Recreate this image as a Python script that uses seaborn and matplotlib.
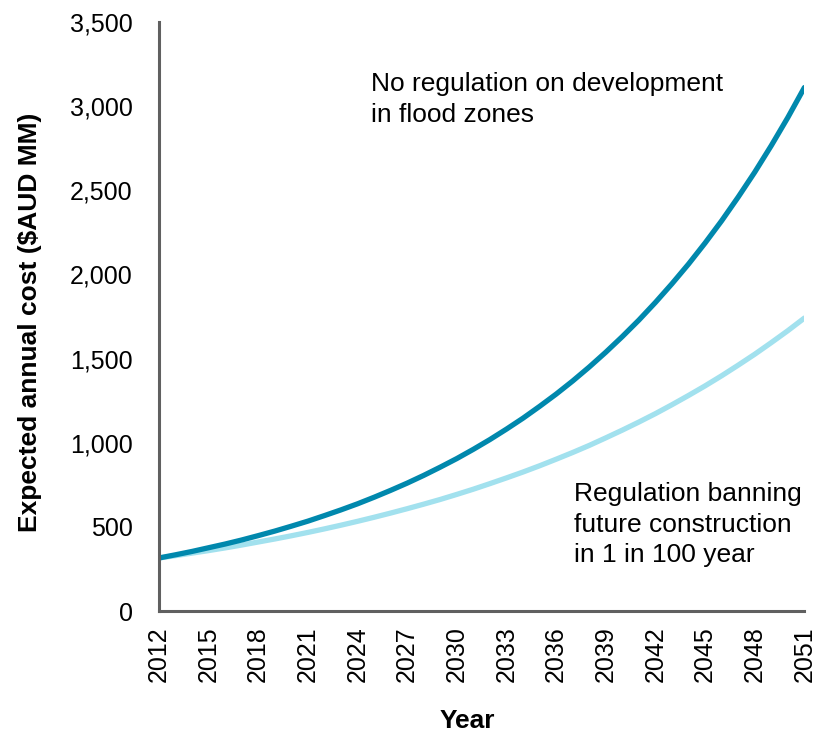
import matplotlib
matplotlib.use("Agg")
import matplotlib.pyplot as plt
import seaborn as sns
import pandas as pd

years = list(range(2012, 2052))
no_regulation = [315, 334, 354, 376, 398, 422, 448, 475, 504, 534,
                 567, 601, 637, 676, 717, 760, 806, 855, 906, 961,
                 1019, 1081, 1146, 1216, 1289, 1367, 1450, 1538, 1631, 1729,
                 1834, 1945, 2062, 2187, 2319, 2460, 2608, 2766, 2933, 3111]
regulation_ban = [315, 329, 344, 359, 375, 392, 410, 428, 447, 467,
                  488, 510, 533, 557, 582, 608, 635, 663, 693, 724,
                  757, 791, 826, 863, 902, 942, 984, 1029, 1075, 1123,
                  1173, 1226, 1281, 1338, 1398, 1461, 1526, 1595, 1666, 1741]
tick_years = list(range(2012, 2052, 3))
y_ticks = [0, 500, 1000, 1500, 2000, 2500, 3000, 3500]

sns.set_theme(style="white")
plt.rcParams["font.family"] = ["Liberation Sans", "DejaVu Sans"]

df = pd.DataFrame({"Year": years,
                   "No regulation": no_regulation,
                   "Regulation": regulation_ban})

fig, ax = plt.subplots(figsize=(8.15, 7.35), dpi=100)
fig.subplots_adjust(left=0.195, right=0.987, top=0.97, bottom=0.1687)

sns.lineplot(data=df, x="Year", y="Regulation", ax=ax, color="#a2e1ee",
             linewidth=3.8, solid_capstyle="round")
sns.lineplot(data=df, x="Year", y="No regulation", ax=ax, color="#0088ad",
             linewidth=3.8, solid_capstyle="round")

ax.set_xlim(2012, 2051)
ax.set_ylim(0, 3500)
ax.set_xticks(tick_years)
ax.set_xticklabels([str(y) for y in tick_years], rotation=90)
ax.set_yticks(y_ticks)
ax.set_yticklabels([f"{v:,}" for v in y_ticks])
ax.tick_params(axis="both", length=0, labelsize=18, colors="black")
ax.tick_params(axis="y", pad=19)
ax.tick_params(axis="x", pad=11)

for side in ["top", "right"]:
    ax.spines[side].set_visible(False)
for side in ["left", "bottom"]:
    ax.spines[side].set_color("#606060")
    ax.spines[side].set_linewidth(2.2)

ax.set_xlabel("Year", fontsize=19, fontweight="bold", color="black")
ax.set_ylabel("Expected annual cost ($AUD MM)", fontsize=19,
              fontweight="bold", color="black")
ax.xaxis.set_label_coords(0.478, -0.166)
ax.yaxis.set_label_coords(-0.181, 0.49)

# multi-line text: baseline alignment anchors the last line
ax.text(2024.8, 2906, "No regulation on development\nin flood zones",
        fontsize=19, va="baseline", ha="left", linespacing=1.38, color="black")
ax.text(2037.1, 291, "Regulation banning\nfuture construction\nin 1 in 100 year",
        fontsize=19, va="baseline", ha="left", linespacing=1.33, color="black")

fig.savefig("out.png", dpi=100)
